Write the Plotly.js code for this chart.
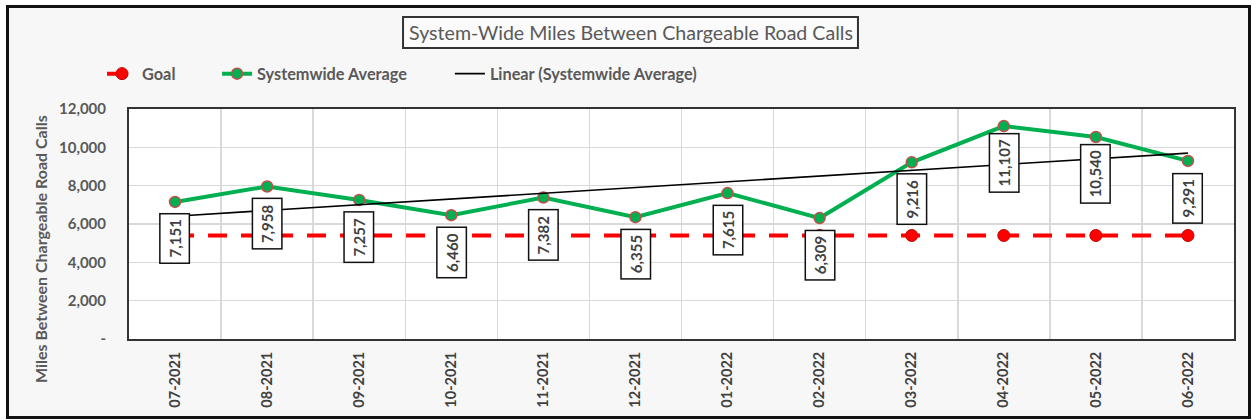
<!DOCTYPE html>
<html>
<head>
<meta charset="utf-8">
<script src="https://cdn.plot.ly/plotly-3.0.1.min.js"></script>
<style>
  html, body { margin: 0; padding: 0; background: #ffffff; }
  #chart { position: absolute; left: 6px; top: 5px; width: 1239px; height: 408px; border: 3px solid #111111; }
</style>
</head>
<body>
<div id="chart"></div>
<script>
// ---- data ----
const months = ["07-2021","08-2021","09-2021","10-2021","11-2021","12-2021","01-2022","02-2022","03-2022","04-2022","05-2022","06-2022"];
const systemwideAverage = [7151, 7958, 7257, 6460, 7382, 6355, 7615, 6309, 9216, 11107, 10540, 9291];
const goal = [5400, 5400, 5400, 5400, 5400, 5400, 5400, 5400, 5400, 5400, 5400, 5400];
const yTickVals = [0, 2000, 4000, 6000, 8000, 10000, 12000];
const yTickText = ["-", "2,000", "4,000", "6,000", "8,000", "10,000", "12,000"];

// linear trendline (least squares) of the systemwide average
const n = systemwideAverage.length;
const xs = systemwideAverage.map((_, i) => i + 1);
const mx = xs.reduce((a, b) => a + b, 0) / n;
const my = systemwideAverage.reduce((a, b) => a + b, 0) / n;
let sxy = 0, sxx = 0;
for (let i = 0; i < n; i++) { sxy += (xs[i] - mx) * (systemwideAverage[i] - my); sxx += (xs[i] - mx) ** 2; }
const slope = sxy / sxx;
const trend = xs.map(x => my + slope * (x - mx));

const FONT = "Lato, 'Open Sans', sans-serif";
const legendFont = { family: FONT, size: 16.3, color: "#595959", weight: "bold" };

const traces = [
  {
    name: "Goal", x: months, y: goal, type: "scatter", mode: "lines+markers", legend: "legend",
    line: { color: "#ff0000", width: 4, dash: "19px,14px" },
    marker: { color: "#ff0000", size: 12, line: { color: "#c00000", width: 1 } },
    hoverinfo: "skip"
  },
  {
    name: "Systemwide Average", x: months, y: systemwideAverage, type: "scatter", mode: "lines+markers", legend: "legend2",
    line: { color: "#00b050", width: 4 },
    marker: { color: "#00b050", size: 11, line: { color: "#c0504d", width: 1.5 } },
    hoverinfo: "skip"
  },
  {
    name: "Linear (Systemwide Average)", x: months, y: trend, type: "scatter", mode: "lines", legend: "legend3",
    line: { color: "#000000", width: 1.6 },
    hoverinfo: "skip"
  }
];

const annotations = systemwideAverage.map((v, i) => ({
  x: months[i], y: v, xref: "x", yref: "y",
  text: v.toLocaleString("en-US"), showarrow: false,
  textangle: -90, xanchor: "center", yanchor: "middle", yshift: -37,
  font: { family: FONT, size: 15, color: "#404040", weight: "bold" },
  bgcolor: "#ffffff", bordercolor: "#111111", borderwidth: 1.5, borderpad: 5
}));

annotations.push({
  xref: "paper", yref: "paper", x: -0.0805, y: 0.391,
  text: "Miles Between Chargeable Road Calls", showarrow: false, textangle: -90,
  xanchor: "center", yanchor: "middle",
  font: { family: FONT, size: 16, color: "#595959", weight: "bold" }
});

function legendAt(x) {
  return { orientation: "h", x: x, xanchor: "left", y: 1.152, yanchor: "middle",
           font: legendFont, bgcolor: "rgba(0,0,0,0)" };
}

const layout = {
  width: 1239, height: 408,
  margin: { l: 120, r: 14, t: 101, b: 77 },
  paper_bgcolor: "#f7f7f7", plot_bgcolor: "#ffffff",
  title: {
    text: "System-Wide Miles Between Chargeable Road Calls",
    x: 0.502, xref: "container", y: 0.9387, yref: "container", xanchor: "center", yanchor: "middle",
    font: { family: FONT, size: 19.6, color: "#595959" }
  },
  showlegend: true,
  legend: legendAt(-0.0244),
  legend2: legendAt(0.0797),
  legend3: legendAt(0.2904),
  xaxis: {
    type: "category", tickson: "boundaries", ticks: "", tickangle: -90,
    range: [-0.5, 11.5], autorange: false,
    showgrid: true, gridcolor: "#d9d9d9", gridwidth: 1.5,
    showline: true, linecolor: "#333333", linewidth: 2, mirror: true,
    tickfont: { family: FONT, size: 14.5, color: "#404040", weight: "bold" },
    ticklabelstandoff: 5, fixedrange: true
  },
  yaxis: {
    range: [0, 12000], tickvals: yTickVals, ticktext: yTickText, ticks: "",
    showgrid: true, gridcolor: "#d9d9d9", gridwidth: 1.5, zeroline: false,
    showline: true, linecolor: "#333333", linewidth: 2, mirror: true,
    tickfont: { family: FONT, size: 15, color: "#595959", weight: "bold" },
    ticklabelstandoff: 18, fixedrange: true
  },
  shapes: [{
    type: "rect", xref: "paper", yref: "paper", x0: 0.248, x1: 0.6597, y0: 1.265, y1: 1.4,
    line: { color: "#333333", width: 2 }, fillcolor: "#fbfbfb", layer: "below"
  }],
  annotations: annotations
};

Plotly.newPlot("chart", traces, layout, { displayModeBar: false, staticPlot: true });
</script>
</body>
</html>
